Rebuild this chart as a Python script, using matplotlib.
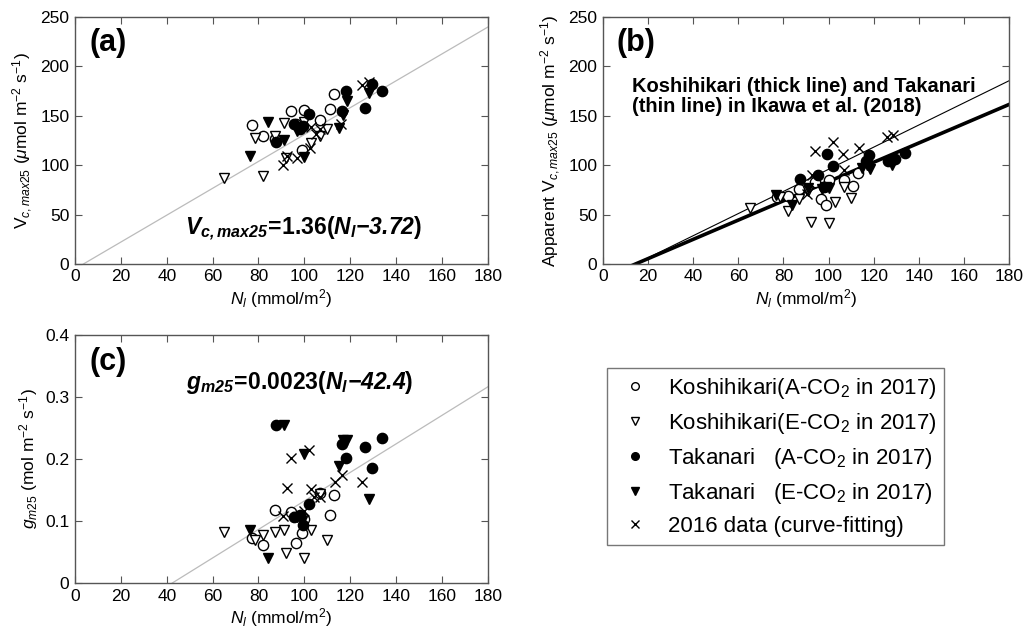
import matplotlib.pyplot as plt
import numpy as np
from matplotlib.lines import Line2D

plt.rcParams['font.family'] = ['Liberation Sans', 'DejaVu Sans']
plt.rcParams['mathtext.fontset'] = 'custom'
plt.rcParams['mathtext.rm'] = 'Liberation Sans'
plt.rcParams['mathtext.it'] = 'Liberation Sans:italic'
plt.rcParams['mathtext.bf'] = 'Liberation Sans:bold'
plt.rcParams['mathtext.bfit'] = 'Liberation Sans:italic:bold'

# N_l of the 2017 samples (same leaves in every panel)
koshi_a_n = [77, 82, 87, 94, 96.5, 99, 100, 107, 111, 113]
koshi_e_n = [65, 78.5, 82, 87, 91, 92, 100, 103, 107, 110]
taka_a_n = [87.5, 95.5, 98, 99.5, 102, 116.5, 118, 126.5, 129.5, 134]
taka_e_n = [76.5, 84, 91, 97, 99, 100, 115, 117, 118.5, 128]

# panel (a): Vcmax25
koshi_a_vc = [141, 129, 126, 155, 142, 115, 156, 146, 157, 172]
koshi_e_vc = [87, 127, 89, 129, 143, 107, 144, 122, 129, 137]
taka_a_vc = [123, 142, 137, 140, 152, 155, 175, 158, 182, 175]
taka_e_vc = [109, 144, 125, 135, 139, 108, 138, 151, 165, 173]
d2016_a_n = [90.5, 92.5, 97, 102.5, 103, 105, 107, 116, 125, 128]
d2016_a_vc = [100, 109, 107, 117, 139, 132, 137, 142, 181, 184]

# panel (b): apparent Vcmax25
koshi_a_app = [68, 69, 76, 83, 66, 60, 85, 85, 79, 92]
koshi_e_app = [57, 68, 54, 66, 74, 42, 41, 63, 78, 67]
taka_a_app = [86, 90, 78, 111, 99, 104, 110, 104, 106, 112]
taka_e_app = [70, 60, 77, 76, 78, 77, 97, 100, 96, 100]
d2016_b_n = [90.5, 92.5, 94, 102, 106.5, 107, 113.5, 126, 128.5]
d2016_b_app = [71, 90, 114, 123, 111, 95, 117, 128, 130]

# panel (c): gm25
koshi_a_gm = [0.072, 0.061, 0.118, 0.115, 0.064, 0.081, 0.104, 0.145, 0.109, 0.142]
koshi_e_gm = [0.083, 0.069, 0.077, 0.082, 0.085, 0.049, 0.040, 0.085, 0.144, 0.070]
taka_a_gm = [0.255, 0.107, 0.109, 0.093, 0.127, 0.225, 0.202, 0.220, 0.185, 0.234]
taka_e_gm = [0.085, 0.040, 0.255, 0.106, 0.100, 0.208, 0.189, 0.231, 0.231, 0.136]
d2016_c_n = [90.5, 92.5, 94, 100, 102, 103, 104, 107, 113.5, 116.5, 125]
d2016_c_gm = [0.108, 0.154, 0.202, 0.116, 0.215, 0.152, 0.139, 0.139, 0.163, 0.174, 0.163]

# regression lines: slope, x-intercept
fit_a = (1.36, 3.72)
fit_c = (0.0023, 42.4)
ikawa_koshi = (0.975, 14.5)
ikawa_taka = (1.12, 14.5)

labels = ['Koshihikari(A-CO$_2$ in 2017)',
          'Koshihikari(E-CO$_2$ in 2017)',
          'Takanari   (A-CO$_2$ in 2017)',
          'Takanari   (E-CO$_2$ in 2017)',
          '2016 data (curve-fitting)']

ms = 7.4
styles = [dict(marker='o', mfc='white', mec='black'),
          dict(marker='v', mfc='white', mec='black'),
          dict(marker='o', mfc='black', mec='black'),
          dict(marker='v', mfc='black', mec='black'),
          dict(marker='x', color='black')]

fig = plt.figure(figsize=(10.32, 6.39), dpi=100)
ax_a = fig.add_axes([0.0727, 0.587, 0.400, 0.3865])
ax_b = fig.add_axes([0.5843, 0.587, 0.3934, 0.3865])
ax_c = fig.add_axes([0.0727, 0.0876, 0.400, 0.388])


def style_axis(ax, ymax, ystep):
    ax.set_xlim(0, 180)
    ax.set_ylim(0, ymax)
    ax.set_xticks(np.arange(0, 181, 20))
    ax.set_yticks(np.arange(0, ymax + ystep / 2, ystep))
    ax.tick_params(direction='in', top=True, right=True, length=5,
                   color='#555555', labelsize=12.5, pad=4)
    for s in ax.spines.values():
        s.set_color('#555555')
        s.set_linewidth(1)
    ax.set_xlabel(r'$N_l$ (mmol/m$^2$)', fontsize=12.5, labelpad=2)


def scatter_groups(ax, xs, ys):
    for x, y, st in zip(xs, ys, styles):
        ax.plot(x, y, linestyle='none', markersize=ms, markeredgewidth=1, **st)


xgrid = np.linspace(0, 180, 200)

# (a)
style_axis(ax_a, 250, 50)
ax_a.plot(xgrid, fit_a[0] * (xgrid - fit_a[1]), color='#bbbbbb', lw=0.9)
scatter_groups(ax_a, [koshi_a_n, koshi_e_n, taka_a_n, taka_e_n, d2016_a_n],
               [koshi_a_vc, koshi_e_vc, taka_a_vc, taka_e_vc, d2016_a_vc])
ax_a.set_ylabel(r'V$_{\mathit{c,max25}}$ ($\mathit{\mu}$mol m$^{-2}$ s$^{-1}$)', fontsize=12.5, labelpad=4)
ax_a.text(0.034, 0.895, '(a)', transform=ax_a.transAxes, fontsize=22,
          fontweight='bold', ha='left', va='center')
ax_a.text(0.552, 0.142,
          r'$\mathbfit{V}_{\mathbfit{c,max25}}\!\mathbf{=}\!\mathbf{1.36(}\mathbfit{N}_{\mathbfit{l}}\mathbfit{{-}3.72}\mathbf{)}$',
          transform=ax_a.transAxes, fontsize=16.5, ha='center', va='center')

# (b)
style_axis(ax_b, 250, 50)
ax_b.plot(xgrid, ikawa_taka[0] * (xgrid - ikawa_taka[1]), color='black', lw=0.8)
ax_b.plot(xgrid, ikawa_koshi[0] * (xgrid - ikawa_koshi[1]), color='black', lw=2.6)
scatter_groups(ax_b, [koshi_a_n, koshi_e_n, taka_a_n, taka_e_n, d2016_b_n],
               [koshi_a_app, koshi_e_app, taka_a_app, taka_e_app, d2016_b_app])
ax_b.set_ylabel(r'Apparent V$_{\mathit{c,max25}}$ ($\mathit{\mu}$mol m$^{-2}$ s$^{-1}$)', fontsize=12.5, labelpad=4)
ax_b.text(0.034, 0.895, '(b)', transform=ax_b.transAxes, fontsize=22,
          fontweight='bold', ha='left', va='center')
ax_b.text(0.071, 0.678, 'Koshihikari (thick line) and Takanari\n(thin line) in Ikawa et al. (2018)',
          transform=ax_b.transAxes, fontsize=14.5, fontweight='bold',
          ha='left', va='center', linespacing=1.1)

# (c)
style_axis(ax_c, 0.4, 0.1)
ax_c.set_yticklabels(['0', '0.1', '0.2', '0.3', '0.4'])
ax_c.plot(xgrid, fit_c[0] * (xgrid - fit_c[1]), color='#bbbbbb', lw=0.9)
scatter_groups(ax_c, [koshi_a_n, koshi_e_n, taka_a_n, taka_e_n, d2016_c_n],
               [koshi_a_gm, koshi_e_gm, taka_a_gm, taka_e_gm, d2016_c_gm])
ax_c.set_ylabel(r'$g_{m25}$ (mol m$^{-2}$ s$^{-1}$)', fontsize=12.5, labelpad=4)
ax_c.text(0.034, 0.89, '(c)', transform=ax_c.transAxes, fontsize=22,
          fontweight='bold', ha='left', va='center')
ax_c.text(0.545, 0.81,
          r'$\mathbfit{g}_{\mathbfit{m25}}\!\mathbf{=}\!\mathbf{0.0023(}\mathbfit{N}_{\mathbfit{l}}\mathbfit{{-}42.4}\mathbf{)}$',
          transform=ax_c.transAxes, fontsize=16.5, ha='center', va='center')

# legend
handles = [Line2D([], [], linestyle='none', markersize=5.5, markeredgewidth=1, **st) for st in styles]
leg = fig.legend(handles, labels, loc='upper left', bbox_to_anchor=(0.588, 0.424),
                 fontsize=16, frameon=True, fancybox=False, edgecolor='#555555',
                 handletextpad=0.6, borderpad=0.35, labelspacing=0.45, handlelength=1.8,
                 borderaxespad=0)
leg.get_frame().set_linewidth(1)

fig.savefig('out.png', dpi=100)
